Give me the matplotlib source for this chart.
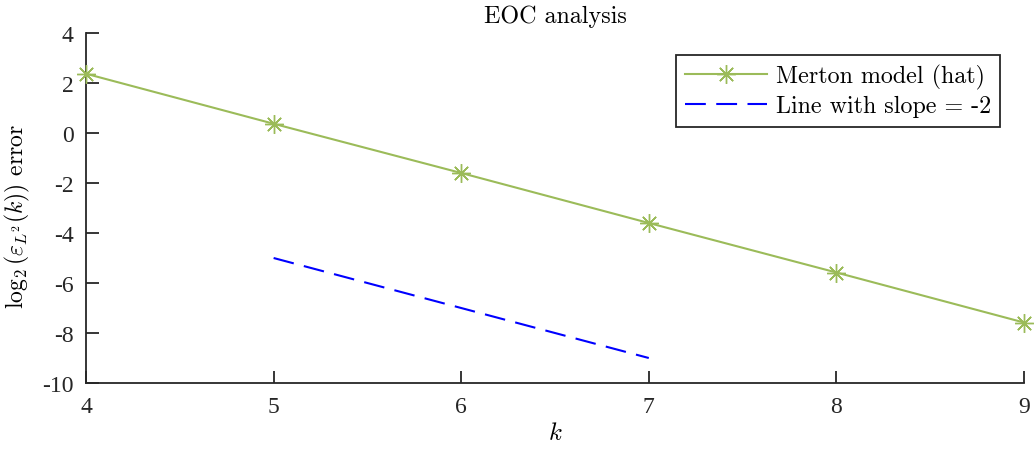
import matplotlib
matplotlib.use("Agg")
import matplotlib.pyplot as plt

# error levels per refinement k
k_vals = [4, 5, 6, 7, 8, 9]
log_err = [2.37, 0.37, -1.60, -3.60, -5.58, -7.58]

# reference slope -2 line
ref_k = [5, 7]
ref_y = [-5, -9]

plt.rcParams['mathtext.fontset'] = 'cm'
plt.rcParams['font.family'] = ['Liberation Serif', 'DejaVu Serif']

fig = plt.figure(figsize=(10.34, 4.52), dpi=100)
ax = fig.add_axes([0.0832, 0.1504, 0.9071, 0.7744])

green = '#9bbb59'
ax.plot(k_vals, log_err, color=green, lw=1.5, marker=(8, 2, 0), markersize=13.5,
        markeredgewidth=1.0, label='Merton model (hat)', clip_on=False, zorder=3)
ax.plot(ref_k, ref_y, color='#0000ff', lw=1.5, dashes=(10, 5),
        label='Line with slope = -2')

ax.set_xlim(4, 9)
ax.set_ylim(-10, 4)
ax.set_xticks(k_vals)
ax.set_yticks(range(-10, 5, 2))
ax.set_yticklabels([str(v) for v in range(-10, 5, 2)])

for side in ('top', 'right'):
    ax.spines[side].set_visible(False)
for side in ('left', 'bottom'):
    ax.spines[side].set_linewidth(1.3)
    ax.spines[side].set_color('#262626')
ax.tick_params(direction='in', length=9, width=1.3, colors='#262626',
               labelsize=17, pad=9)

ax.set_title('EOC analysis', fontsize=17.3, pad=8, family='cmr10')
ax.set_xlabel('$k$', fontsize=18, labelpad=4)
ax.set_ylabel(r'$\log_2(\varepsilon_{L^2}(k))$ error', fontsize=17,
              family='cmr10')
ax.yaxis.set_label_coords(-0.058, 0.48)

leg = ax.legend(loc='upper right', bbox_to_anchor=(0.9744, 0.937),
                prop={'family': 'cmr10', 'size': 17.3}, fancybox=False,
                framealpha=1, edgecolor='#262626', handlelength=3.4,
                borderpad=0.38, labelspacing=0.25, handletextpad=0.35,
                borderaxespad=0)
leg.get_frame().set_linewidth(1.3)

fig.savefig('out.png', dpi=100)
